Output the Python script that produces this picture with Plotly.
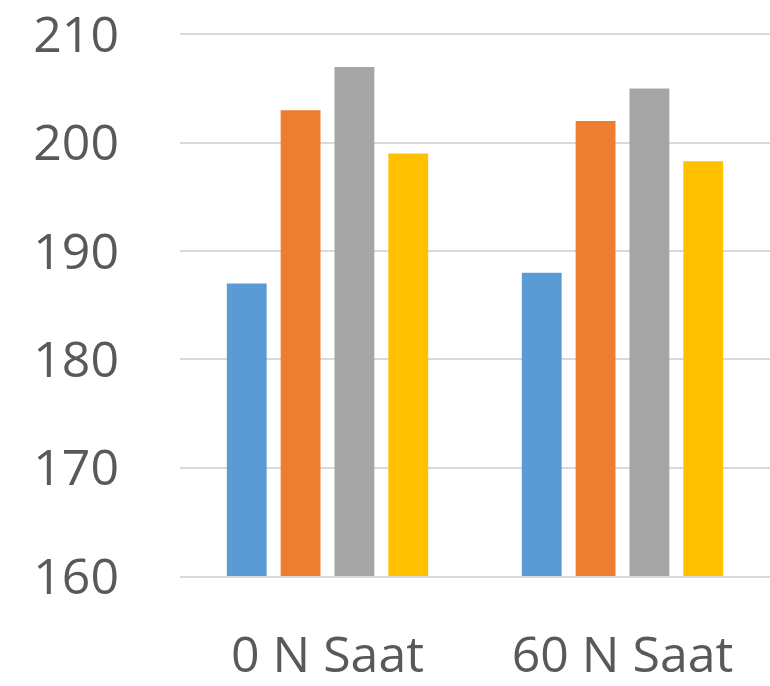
import plotly.graph_objects as go

categories = ["0 N Saat", "60 N Saat"]
series_names = ["Seri 1", "Seri 2", "Seri 3", "Seri 4"]
series_values = [
    [187, 188],
    [203, 202],
    [207, 205],
    [199, 198.3],
]
colors = ["#5B9BD5", "#ED7D31", "#A5A5A5", "#FFC000"]
y_ticks = [160, 170, 180, 190, 200, 210]

fig = go.Figure()
for name, vals, c in zip(series_names, series_values, colors):
    fig.add_trace(go.Bar(x=categories, y=vals, name=name, marker=dict(color=c, line=dict(width=0))))

fig.update_layout(
    width=770, height=686,
    margin=dict(l=180, r=0, t=29, b=110, autoexpand=False),
    barmode="group", bargap=0.27, bargroupgap=0.26,
    showlegend=False,
    plot_bgcolor="white", paper_bgcolor="white",
    font=dict(family="Open Sans", color="#595959", size=50),
)
fig.update_yaxes(range=[160, 210.5], tickvals=y_ticks, showgrid=True, gridcolor="#D9D9D9", gridwidth=1.5,
                 zeroline=False, showline=False, ticks="", ticklabelstandoff=60, automargin=False,
                 ticklabeloverflow="allow")
fig.update_xaxes(showline=True, linecolor="#D9D9D9", linewidth=1.5, ticks="", ticklabelstandoff=34,
                 automargin=False, ticklabeloverflow="allow")

fig.write_html("out.html")
